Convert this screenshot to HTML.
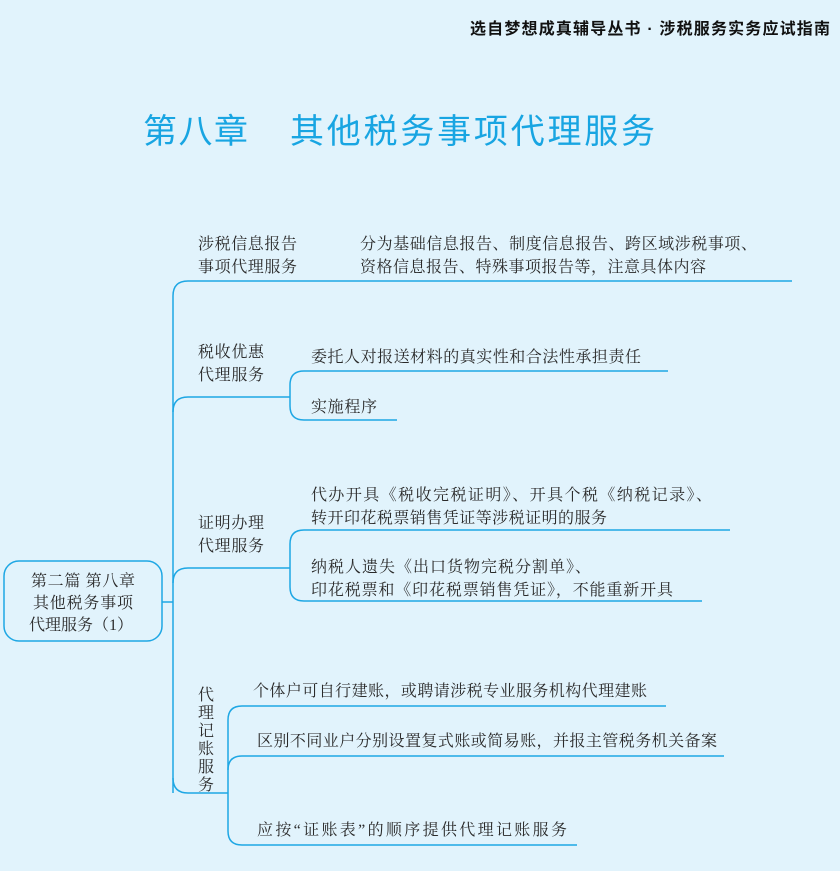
<!DOCTYPE html>
<html><head><meta charset="utf-8"><style>
html,body{margin:0;padding:0;background:#e1f3fc;}
svg{display:block}
text{font-family:"Liberation Serif","Noto Serif CJK SC",serif;font-size:16px;fill:#2a2a2a;}
.h{font-family:"Liberation Sans","Noto Sans CJK SC",sans-serif;font-weight:bold;font-size:16px;fill:#111;}
.t{font-family:"Liberation Sans","Noto Sans CJK SC",sans-serif;font-size:34px;fill:#18a5e2;}
</style></head><body>
<svg width="840" height="871" viewBox="0 0 840 871">
<rect width="840" height="871" fill="#e1f3fc"/>
<text class="h" x="470" y="34" textLength="360" lengthAdjust="spacing">选自梦想成真辅导丛书 · 涉税服务实务应试指南</text>
<text class="t" x="143" y="143" textLength="105" lengthAdjust="spacing">第八章</text>
<text class="t" x="290" y="143" textLength="365" lengthAdjust="spacing">其他税务事项代理服务</text>
<g fill="none" stroke="#1ea7e4" stroke-width="1.5">
<rect x="4" y="561" width="158" height="80" rx="15"/>
<path d="M162 602H173"/>
<path d="M173 296Q173 281 188 281H792"/>
<path d="M173 793V296"/>
<path d="M173 412Q173 397 188 397H290"/>
<path d="M173 583Q173 568 188 568H290"/>
<path d="M173 778Q173 793 188 793H228"/>
<path d="M668 371H304Q290 371 290 385V406Q290 420 304 420H397"/>
<path d="M730 530H304Q290 530 290 544V587Q290 601 304 601H702"/>
<path d="M666 706H242Q228 706 228 720V831Q228 845 242 845H577"/>
<path d="M724 756H242Q228 756 228 770"/>
</g>
<text x="31" y="586" textLength="104" lengthAdjust="spacing">第二篇  第八章</text>
<text x="33" y="608" textLength="100" lengthAdjust="spacing">其他税务事项</text>
<text x="29" y="630" textLength="104" lengthAdjust="spacing">代理服务（1）</text>
<text x="198" y="249" textLength="99" lengthAdjust="spacing">涉税信息报告</text>
<text x="198" y="272" textLength="99" lengthAdjust="spacing">事项代理服务</text>
<text x="360" y="249" textLength="397" lengthAdjust="spacing">分为基础信息报告、制度信息报告、跨区域涉税事项、</text>
<text x="360" y="272" textLength="346" lengthAdjust="spacing">资格信息报告、特殊事项报告等，注意具体内容</text>
<text x="198" y="357" textLength="66" lengthAdjust="spacing">税收优惠</text>
<text x="198" y="380" textLength="66" lengthAdjust="spacing">代理服务</text>
<text x="311" y="362" textLength="330" lengthAdjust="spacing">委托人对报送材料的真实性和合法性承担责任</text>
<text x="311" y="412" textLength="66" lengthAdjust="spacing">实施程序</text>
<text x="198" y="528" textLength="66" lengthAdjust="spacing">证明办理</text>
<text x="198" y="551" textLength="66" lengthAdjust="spacing">代理服务</text>
<text x="311" y="500" textLength="401" lengthAdjust="spacing">代办开具《税收完税证明》、开具个税《纳税记录》、</text>
<text x="311" y="523" textLength="296" lengthAdjust="spacing">转开印花税票销售凭证等涉税证明的服务</text>
<text x="311" y="572" textLength="280" lengthAdjust="spacing">纳税人遗失《出口货物完税分割单》、</text>
<text x="311" y="595" textLength="362" lengthAdjust="spacing">印花税票和《印花税票销售凭证》，不能重新开具</text>
<text x="198" y="700">代</text><text x="198" y="718">理</text><text x="198" y="736">记</text><text x="198" y="754">账</text><text x="198" y="772">服</text><text x="198" y="790">务</text>
<text x="253" y="696" textLength="394" lengthAdjust="spacing">个体户可自行建账，或聘请涉税专业服务机构代理建账</text>
<text x="257" y="746" textLength="460" lengthAdjust="spacing">区别不同业户分别设置复式账或简易账，并报主管税务机关备案</text>
<text x="257" y="835" textLength="310" lengthAdjust="spacing">应按“证账表”的顺序提供代理记账服务</text>
</svg>
</body></html>
